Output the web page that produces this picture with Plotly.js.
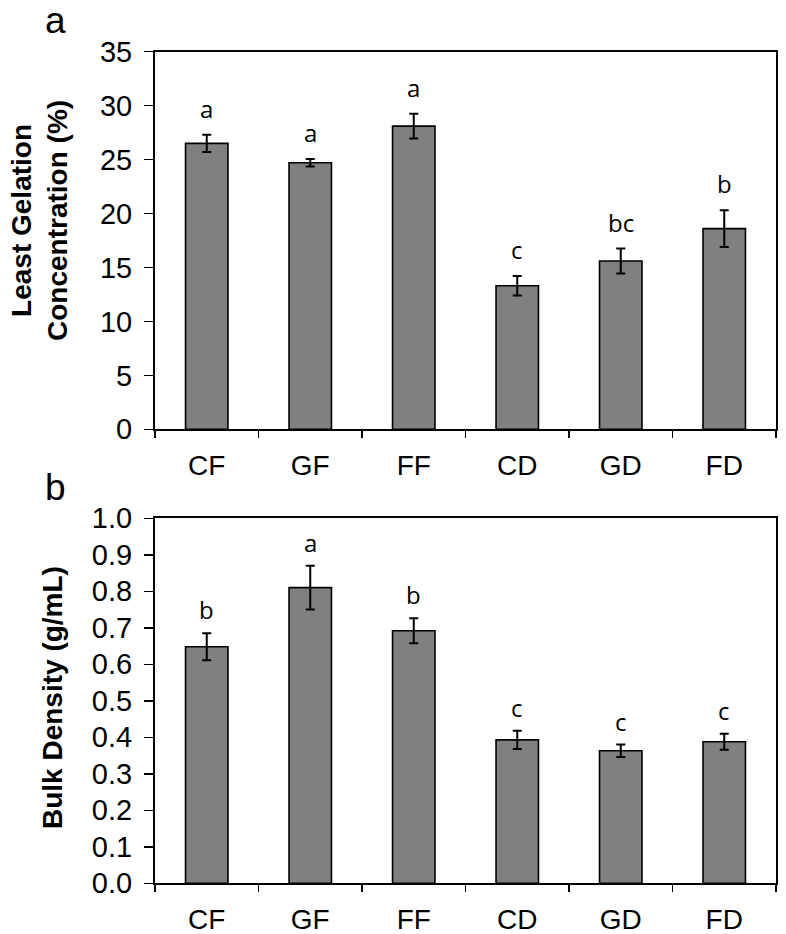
<!DOCTYPE html>
<html>
<head>
<meta charset="utf-8">
<script src="https://cdn.plot.ly/plotly-3.0.1.min.js"></script>
<style>html,body{margin:0;padding:0;background:#fff;}#chart{width:786px;height:934px;}</style>
</head>
<body>
<div id="chart"></div>
<script>
// ---- data ----
const categories = ['CF', 'GF', 'FF', 'CD', 'GD', 'FD'];
const gelationValues = [26.5, 24.7, 28.1, 13.3, 15.6, 18.6];
const gelationErrors = [0.8, 0.35, 1.15, 0.9, 1.15, 1.7];
const gelationLetters = ['a', 'a', 'a', 'c', 'bc', 'b'];
const densityValues = [0.648, 0.810, 0.692, 0.393, 0.363, 0.388];
const densityErrors = [0.037, 0.060, 0.034, 0.025, 0.017, 0.022];
const densityLetters = ['b', 'a', 'b', 'c', 'c', 'c'];
const panelLabels = ['a', 'b'];
const gelationTitle = 'Least Gelation<br>Concentration (%)';
const densityTitle = 'Bulk Density (g/mL)';

// ---- styling ----
const W = 786, H = 934;
const fam = 'Liberation Sans, Arial, sans-serif';
const tickFont = {family: fam, size: 29, color: '#000'};
const xTickFont = {family: fam, size: 28, color: '#000'};
const titleFont = {family: fam, size: 28, color: '#000', weight: 'bold'};
const letterFont = {family: 'Open Sans, sans-serif', size: 24, color: '#000'};

function barTrace(vals, errs, xa, ya) {
  return {
    type: 'bar', x: categories, y: vals, xaxis: xa, yaxis: ya,
    width: 0.41,
    marker: {color: '#808080', line: {color: '#000', width: 1.6}},
    error_y: {type: 'data', array: errs, visible: true, color: '#000', thickness: 2, width: 4.5},
    showlegend: false, hoverinfo: 'x+y'
  };
}

const data = [
  barTrace(gelationValues, gelationErrors, 'x', 'y'),
  barTrace(densityValues, densityErrors, 'x2', 'y2')
];

const annotations = [];
categories.forEach((c, i) => {
  annotations.push({x: c, y: gelationValues[i] + gelationErrors[i], xref: 'x', yref: 'y',
    text: gelationLetters[i], showarrow: false, yanchor: 'bottom', yshift: 8, font: letterFont});
  annotations.push({x: c, y: densityValues[i] + densityErrors[i], xref: 'x2', yref: 'y2',
    text: densityLetters[i], showarrow: false, yanchor: 'bottom', yshift: 5, font: letterFont});
});
const panelFont = {family: fam, size: 37, color: '#000'};
annotations.push({x: 55 / W, y: 1 - 21 / H, xref: 'paper', yref: 'paper', text: panelLabels[0],
  showarrow: false, xanchor: 'center', yanchor: 'middle', font: panelFont});
annotations.push({x: 55 / W, y: 1 - 488 / H, xref: 'paper', yref: 'paper', text: panelLabels[1],
  showarrow: false, xanchor: 'center', yanchor: 'middle', font: panelFont});
// y-axis titles
annotations.push({x: 39 / W, y: 1 - 221 / H, xref: 'paper', yref: 'paper', text: gelationTitle,
  textangle: -90, showarrow: false, xanchor: 'center', yanchor: 'middle', font: titleFont});
annotations.push({x: 52 / W, y: 1 - 698 / H, xref: 'paper', yref: 'paper', text: densityTitle,
  textangle: -90, showarrow: false, xanchor: 'center', yanchor: 'middle', font: titleFont});

const xCommon = {
  type: 'category', tickson: 'boundaries', ticks: 'outside', ticklen: 7, tickwidth: 1.5, tickcolor: '#000',
  showline: true, linecolor: '#000', linewidth: 2, mirror: true, showgrid: false, zeroline: false,
  tickfont: xTickFont, ticklabelstandoff: 10, range: [-0.5, 5.5], fixedrange: true
};
const yCommon = {
  ticks: 'outside', ticklen: 9, tickwidth: 1.5, tickcolor: '#000',
  showline: true, linecolor: '#000', linewidth: 2, mirror: true, showgrid: false, zeroline: false,
  tickfont: tickFont, ticklabelstandoff: 6, fixedrange: true
};

const layout = {
  width: W, height: H,
  margin: {l: 0, r: 0, t: 0, b: 0},
  paper_bgcolor: '#fff', plot_bgcolor: '#fff',
  bargap: 0.59,
  xaxis: Object.assign({}, xCommon, {domain: [155 / W, 776 / W], anchor: 'y'}),
  yaxis: Object.assign({}, yCommon, {domain: [1 - 429.3 / H, 1 - 51.7 / H], anchor: 'x', range: [0, 35], dtick: 5}),
  xaxis2: Object.assign({}, xCommon, {domain: [155 / W, 776 / W], anchor: 'y2'}),
  yaxis2: Object.assign({}, yCommon, {domain: [1 - 883.3 / H, 1 - 518.3 / H], anchor: 'x2', range: [0, 1], dtick: 0.1, tickformat: '.1f'}),
  annotations: annotations
};

Plotly.newPlot('chart', data, layout, {displayModeBar: false, staticPlot: true});
</script>
</body>
</html>
